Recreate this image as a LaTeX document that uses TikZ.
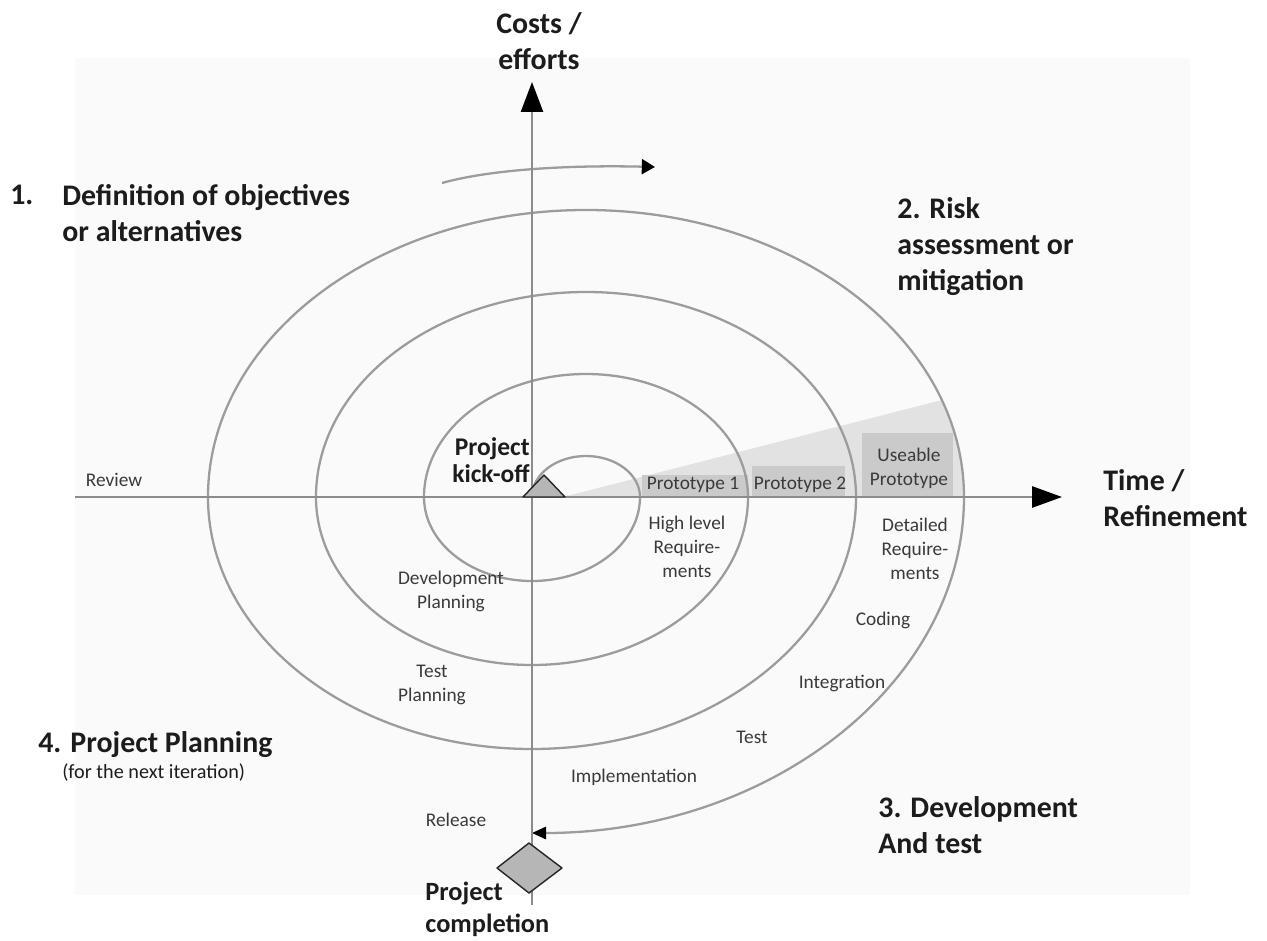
\documentclass[tikz,border=0pt]{standalone}
\usepackage{fontspec}
\setmainfont{Carlito}
\usetikzlibrary{arrows.meta}

\definecolor{bgshade}{HTML}{FAFAFA}
\definecolor{ringgray}{HTML}{9C9C9C}
\definecolor{axisgray}{HTML}{8C8C8C}
\definecolor{wedgegray}{HTML}{E2E2E2}
\definecolor{boxgray}{HTML}{CACACA}
\definecolor{shapegray}{HTML}{B6B6B6}
\definecolor{headink}{HTML}{1C1C1C}
\definecolor{labelink}{HTML}{3A3A3A}

\begin{document}
\begin{tikzpicture}[
  x=0.02cm, y=0.02cm,
  ring/.style={draw=ringgray, line width=1.3pt},
  axisline/.style={draw=axisgray, line width=1.3pt},
  heading/.style={inner sep=0pt, text=headink, font=\fontsize{17}{20.5}\selectfont\bfseries, align=left},
  milestone/.style={inner sep=0pt, text=headink, font=\fontsize{14.5}{15}\selectfont\bfseries},
  steplabel/.style={inner sep=0pt, text=labelink, font=\fontsize{11}{13.6}\selectfont, align=center},
  marker/.style={fill=shapegray, draw=black!85, line width=0.8pt, line join=round}
]
\useasboundingbox (-532,-443) rectangle (735,497);

% faint paper area behind the drawing
\fill[bgshade] (-457,439) rectangle (658,-398);

% growing prototype wedge and prototype boxes
\fill[wedgegray] (31,0) -- (410,97) arc[start angle=19.7, end angle=0, x radius=378, y radius=287] -- cycle;
\fill[boxgray] (110,0) rectangle (216,22);
\fill[boxgray] (220,0) rectangle (313,31);
\fill[boxgray] (330,0) rectangle (421,64);

% the spiral: upper halves centred at (54,0), lower halves at the origin
\coordinate (origin) at (0,0);
\draw[ring, -{Triangle[length=8pt, width=7pt, color=black]}] (origin)
  arc[start angle=180, end angle=0,    x radius=54,  y radius=41]
  arc[start angle=0,   end angle=-180, x radius=108, y radius=84]
  arc[start angle=180, end angle=0,    x radius=162, y radius=123]
  arc[start angle=0,   end angle=-180, x radius=216, y radius=168]
  arc[start angle=180, end angle=0,    x radius=270, y radius=205]
  arc[start angle=0,   end angle=-180, x radius=324, y radius=252]
  arc[start angle=180, end angle=0,    x radius=378, y radius=287]
  arc[start angle=0,   end angle=-90,  x radius=432, y radius=336];

% direction of travel
\coordinate (turnA) at (-90,314);
\coordinate (turnB) at (123,330);
\draw[ring, -{Triangle[length=7.5pt, width=8.5pt, color=black]}] (turnA) .. controls (-40,328) and (40,332) .. (turnB);

% axes
\coordinate (xstart) at (-457,0);
\coordinate (xend) at (530,0);
\coordinate (ystart) at (0,-408);
\coordinate (yend) at (0,415);
\draw[axisline, -{Triangle[length=17pt, width=12pt, color=black]}] (xstart) -- (xend);
\draw[axisline, -{Triangle[length=17pt, width=12.5pt, color=black]}] (ystart) -- (yend);

% kick-off triangle and completion diamond
\draw[marker] (-9,0) -- (12,22) -- (33,0) -- cycle;
\draw[marker] (-3,-346) -- (30,-371) -- (-3,-396) -- (-35,-371) -- cycle;

% axis titles
\node[heading, align=center] (costs) at (7,456) {Costs /\\efforts};
\node[heading, anchor=west] (time) at (571,-1) {Time /\\Refinement};

% quadrant titles
\node[heading, anchor=west] (q1num) at (-522,302) {1.};
\node[heading, anchor=west] (q1) at (-470,284) {Definition of objectives\\or alternatives};
\node[heading, anchor=west] (q2) at (365,250) {2. Risk\\assessment or\\mitigation};
\node[heading, anchor=west] (q3) at (346,-328) {3. Development\\And test};
\node[heading, anchor=west] (q4) at (-494,-248) {4. Project Planning};
\node[inner sep=0pt, text=headink, font=\fontsize{11.5}{13}\selectfont, anchor=west] (q4sub) at (-470,-276) {(for the next iteration)};

% milestones
\node[milestone, anchor=east, align=right] (kickoff) at (-2,37) {Project\\kick-off};
\node[milestone, anchor=west, align=left, font=\fontsize{15}{18.2}\selectfont\bfseries] (completion) at (-107,-412) {Project\\completion};

% prototypes
\node[steplabel] (proto1) at (161,12) {Prototype 1};
\node[steplabel] (proto2) at (268,12) {Prototype 2};
\node[steplabel] (useable) at (377,29) {Useable\\Prototype};

% activities along the spiral
\node[steplabel] (review) at (-418,17) {Review};
\node[steplabel] (highreq) at (155,-50) {High level\\Require-\\ments};
\node[steplabel] (detreq) at (383,-52) {Detailed\\Require-\\ments};
\node[steplabel] (coding) at (351,-123) {Coding};
\node[steplabel] (integration) at (310,-186) {Integration};
\node[steplabel] (test) at (220,-240) {Test};
\node[steplabel] (impl) at (102,-280) {Implementation};
\node[steplabel] (release) at (-76,-323) {Release};
\node[steplabel] (devplan) at (-81,-94) {Development\\Planning};
\node[steplabel] (testplan) at (-100,-188) {Test\\Planning};
\end{tikzpicture}
\end{document}
